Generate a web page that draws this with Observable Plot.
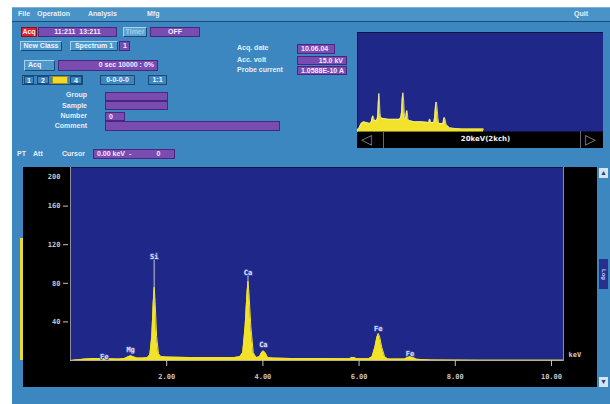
<!DOCTYPE html>
<html><head><meta charset="utf-8">
<script src="https://cdn.jsdelivr.net/npm/d3@7"></script>
<script src="https://cdn.jsdelivr.net/npm/@observablehq/plot@0.6"></script>
<style>
body{margin:0;background:#fff;}
#root{position:relative;width:610px;height:404px;overflow:hidden;background:#fff;font-family:"Liberation Sans","DejaVu Sans",sans-serif;font-weight:bold;font-size:7px;color:#e6eef8;}
.a{position:absolute;white-space:nowrap;line-height:8px;}
.win{position:absolute;left:12px;top:7px;width:598px;height:397px;background:#3c87bf;}
.menu{position:absolute;left:12px;top:7px;width:598px;height:13px;background:#4a93c7;border-top:1px solid #7ab4dc;border-bottom:1px solid #1c4d7c;}
.pb{position:absolute;background:#7a4cb2;border:1px solid #47287e;box-sizing:border-box;color:#f2eaff;font-size:7px;line-height:8px;padding:0 3px;white-space:nowrap;overflow:hidden;}
.btn{position:absolute;background:#4d97cb;border:1px solid;border-color:#a4d2f0 #1b4a78 #1b4a78 #a4d2f0;box-sizing:border-box;font-size:7px;line-height:8px;padding:0 3px;color:#eef4ff;white-space:nowrap;overflow:hidden;text-align:center;}
.ob{position:absolute;border:1px solid #1d4a74;box-sizing:border-box;font-size:7px;line-height:8px;text-align:center;color:#eef4ff;}
.lbl{position:absolute;white-space:nowrap;line-height:8px;text-align:right;}
</style></head><body><div id="root">
<div class="win"></div>
<div class="menu"></div>
<div class="a" style="left:18px;top:10px;">File</div>
<div class="a" style="left:37px;top:10px;">Operation</div>
<div class="a" style="left:88px;top:10px;">Analysis</div>
<div class="a" style="left:147px;top:10px;">Mfg</div>
<div class="a" style="left:574px;top:10px;">Quit</div>

<div class="pb" style="left:21px;top:27px;width:16px;height:10px;background:#e3222e;border-color:#8a1018;padding:0;text-align:center;">Acq</div>
<div class="pb" style="left:38px;top:27px;width:79px;height:10px;text-align:center;">11:211&nbsp;&nbsp;13:211</div>
<div class="btn" style="left:123px;top:27px;width:24px;height:10px;background:#5fa3d2;color:#a9cbe6;padding:0;">Timer</div>
<div class="pb" style="left:150px;top:27px;width:50px;height:10px;text-align:center;">OFF</div>

<div class="btn" style="left:20px;top:41px;width:42px;height:10px;padding:0;">New Class</div>
<div class="btn" style="left:70px;top:41px;width:48px;height:10px;padding:0;">Spectrum 1</div>
<div class="pb" style="left:119px;top:41px;width:11px;height:10px;">1</div>

<div class="btn" style="left:24px;top:60px;width:31px;height:11px;text-align:left;">Acq</div>
<div class="pb" style="left:58px;top:60px;width:100px;height:11px;text-align:right;">0 sec 10000 : 0%</div>

<div class="ob" style="left:22px;top:75px;width:61px;height:10px;"></div>
<div class="ob" style="left:24px;top:76px;width:10px;height:8px;">1</div>
<div class="ob" style="left:37px;top:76px;width:12px;height:8px;">2</div>
<div class="ob" style="left:52px;top:76px;width:16px;height:8px;background:#f1d92a;border-color:#a89010;"></div>
<div class="ob" style="left:70px;top:76px;width:12px;height:8px;">4</div>
<div class="ob" style="left:100px;top:75px;width:35px;height:10px;">0-0-0-0</div>
<div class="ob" style="left:148px;top:75px;width:19px;height:10px;">1:1</div>

<div class="lbl" style="right:523px;top:91px;">Group</div>
<div class="lbl" style="right:523px;top:102px;">Sample</div>
<div class="lbl" style="right:523px;top:112px;">Number</div>
<div class="lbl" style="right:523px;top:122px;">Comment</div>
<div class="pb" style="left:105px;top:92px;width:63px;height:9px;"></div>
<div class="pb" style="left:105px;top:101px;width:63px;height:9px;"></div>
<div class="pb" style="left:105px;top:112px;width:20px;height:9px;">0</div>
<div class="pb" style="left:105px;top:121px;width:175px;height:10px;"></div>

<div class="a" style="left:237px;top:44px;">Acq. date</div>
<div class="a" style="left:237px;top:56px;">Acc. volt</div>
<div class="a" style="left:237px;top:66px;">Probe current</div>
<div class="pb" style="left:297px;top:44px;width:38px;height:10px;">10.06.04</div>
<div class="pb" style="left:297px;top:56px;width:50px;height:9px;text-align:right;">15.0 kV</div>
<div class="pb" style="left:297px;top:66px;width:50px;height:9px;">1.0588E-10 A</div>

<div class="a" style="left:17px;top:150px;">PT</div>
<div class="a" style="left:33px;top:150px;">Att</div>
<div class="a" style="left:62px;top:150px;">Cursor</div>
<div class="pb" style="left:93px;top:149px;width:82px;height:10px;">0.00 keV&nbsp;&nbsp;-&nbsp;&nbsp;&nbsp;&nbsp;&nbsp;&nbsp;&nbsp;&nbsp;&nbsp;&nbsp;&nbsp;&nbsp;&nbsp;0</div>

<div id="mini" style="position:absolute;left:357px;top:32px;width:246px;height:116px;"></div>
<div style="position:absolute;left:383px;top:131px;width:1px;height:17px;background:#6a6a6a;"></div>
<div style="position:absolute;left:580px;top:131px;width:1px;height:17px;background:#6a6a6a;"></div>
<div class="a" style="left:361px;top:132px;font-size:14px;line-height:15px;color:#8a8a8a;font-weight:normal;">&#9665;</div>
<div class="a" style="left:585px;top:132px;font-size:14px;line-height:15px;color:#8a8a8a;font-weight:normal;">&#9655;</div>

<div style="position:absolute;left:20px;top:238px;width:3px;height:122px;background:#e9dc2a;"></div>
<div id="main" style="position:absolute;left:23px;top:167px;width:574px;height:220px;"></div>

<div style="position:absolute;left:599px;top:168px;width:9px;height:10px;background:#d6e4f0;color:#27408a;font-size:7px;line-height:10px;text-align:center;">&#9650;</div>
<div style="position:absolute;left:599px;top:377px;width:9px;height:10px;background:#d6e4f0;color:#27408a;font-size:7px;line-height:10px;text-align:center;">&#9660;</div>
<div style="position:absolute;left:599px;top:259px;width:9px;height:30px;background:#27308c;color:#c8d4ff;font-size:6px;writing-mode:vertical-rl;text-align:center;line-height:9px;">Log</div>
</div>
<script>
// spectrum (keV, counts)
const energy = [0, 0.3, 0.5, 1.0, 1.12, 1.2, 1.25, 1.3, 1.38, 1.5, 1.6, 1.65, 1.69, 1.72, 1.74, 1.76, 1.79, 1.83, 1.88, 2.0, 2.5, 3.0, 3.4, 3.52, 3.58, 3.63, 3.67, 3.69, 3.71, 3.75, 3.80, 3.86, 3.93, 3.97, 4.01, 4.05, 4.10, 4.2, 4.6, 5.2, 5.8, 5.85, 5.9, 5.95, 6.2, 6.27, 6.33, 6.37, 6.40, 6.43, 6.47, 6.53, 6.6, 6.95, 7.0, 7.06, 7.12, 7.2, 7.5, 8.5, 10.25];
const counts = [0, 1.5, 2, 1.5, 2, 4, 5, 4, 2.5, 2.5, 3, 6, 25, 60, 76, 60, 25, 7, 4, 3.5, 3, 3, 3, 4, 8, 35, 70, 82, 70, 35, 8, 3, 4, 8, 10, 8, 3, 2.5, 2, 2, 1.8, 3, 3, 1.8, 1.8, 4, 14, 24, 28, 24, 14, 4, 1.5, 1.5, 3, 4, 3, 1.2, 0.5, 0.3, 0.3];

// element labels
const elemNames = ["Fe", "Mg", "Si", "Ca", "Ca", "Fe", "Fe"];
const elemKeV = [0.70, 1.25, 1.74, 3.69, 4.01, 6.40, 7.06];
const elemLabelY = [4, 11, 107, 91, 16, 33, 7];

// KLM marker lines
const markerKeV = [1.74, 3.69];
const markerTop = [104, 88];

// axes
const xTicks = [2, 4, 6, 8, 10];
const yTicks = [40, 80, 120, 160];
const yTopTick = [200];
const xMax = 10.25;
const miniMax = 20;
const miniLabel = "20keV(2kch)";

const NAVY = "#1f2788";
const YEL = "#f2e22a";

const spectrum = energy.map((e, i) => ({e, c: counts[i]}));
const elems = elemNames.map((n, i) => ({n, e: elemKeV[i], y: elemLabelY[i]}));
const markers = markerKeV.map((e, i) => ({e, top: markerTop[i]}));

const main = Plot.plot({
  width: 574, height: 220,
  marginLeft: 47, marginRight: 34, marginTop: 0, marginBottom: 27,
  style: {background: "#000", color: "#c4c4c4", fontSize: "7px", fontFamily: "DejaVu Sans Mono, monospace"},
  x: {domain: [0, xMax]},
  y: {domain: [0, 200]},
  marks: [
    Plot.frame({fill: NAVY, stroke: null}),
    Plot.ruleX(markers, {x: "e", y1: 0, y2: "top", stroke: "#aaaac4", strokeWidth: 1.2}),
    Plot.areaY(spectrum, {x: "e", y: "c", fill: YEL}),
    Plot.lineY(spectrum, {x: "e", y: "c", stroke: YEL, strokeWidth: 1}),
    Plot.ruleX([0, xMax], {stroke: "#8c8ca4"}),
    Plot.ruleY([0], {stroke: "#b8b090"}),
    Plot.axisX(xTicks, {tickSize: 6, tickPadding: 8, tickFormat: d3.format(".2f"), label: null}),
    Plot.axisY(yTicks, {tickSize: 5, tickPadding: 3, dx: -2, label: null}),
    Plot.axisY(yTopTick, {tickSize: 0, tickPadding: 8, dx: -2, dy: 9, label: null}),
    Plot.text(["keV"], {frameAnchor: "bottom-right", textAnchor: "start", dx: 5, dy: -4, fill: "#d0d0d0", fontSize: 7}),
    Plot.text(elems, {x: "e", y: "y", text: "n", fill: "#d8deff", stroke: "#4650a8", strokeWidth: 1.5, fontSize: 7, fontWeight: "bold"})
  ]
});
document.getElementById("main").appendChild(main);

const mini = Plot.plot({
  width: 246, height: 116,
  marginLeft: 0, marginRight: 0, marginTop: 0, marginBottom: 17,
  style: {background: "#000", color: "#fff", fontSize: "7px", fontFamily: "DejaVu Sans, sans-serif", fontWeight: "bold"},
  x: {domain: [0, miniMax], axis: null},
  y: {type: "symlog", constant: 1, domain: [0, 80000], axis: null},
  marks: [
    Plot.frame({fill: NAVY, stroke: null}),
    Plot.areaY(spectrum, {x: "e", y: "c", fill: YEL}),
    Plot.lineY(spectrum, {x: "e", y: "c", stroke: "#f6f0b0", strokeWidth: 0.8}),
    Plot.ruleY([{y: 0, a: 0, b: xMax}], {y: "y", x1: "a", x2: "b", stroke: YEL, strokeWidth: 3, dy: -1.5}),
    Plot.text([miniLabel], {frameAnchor: "bottom", dx: 5, dy: 9, fill: "#f0f0f0"})
  ]
});
document.getElementById("mini").appendChild(mini);
</script>
</body></html>
